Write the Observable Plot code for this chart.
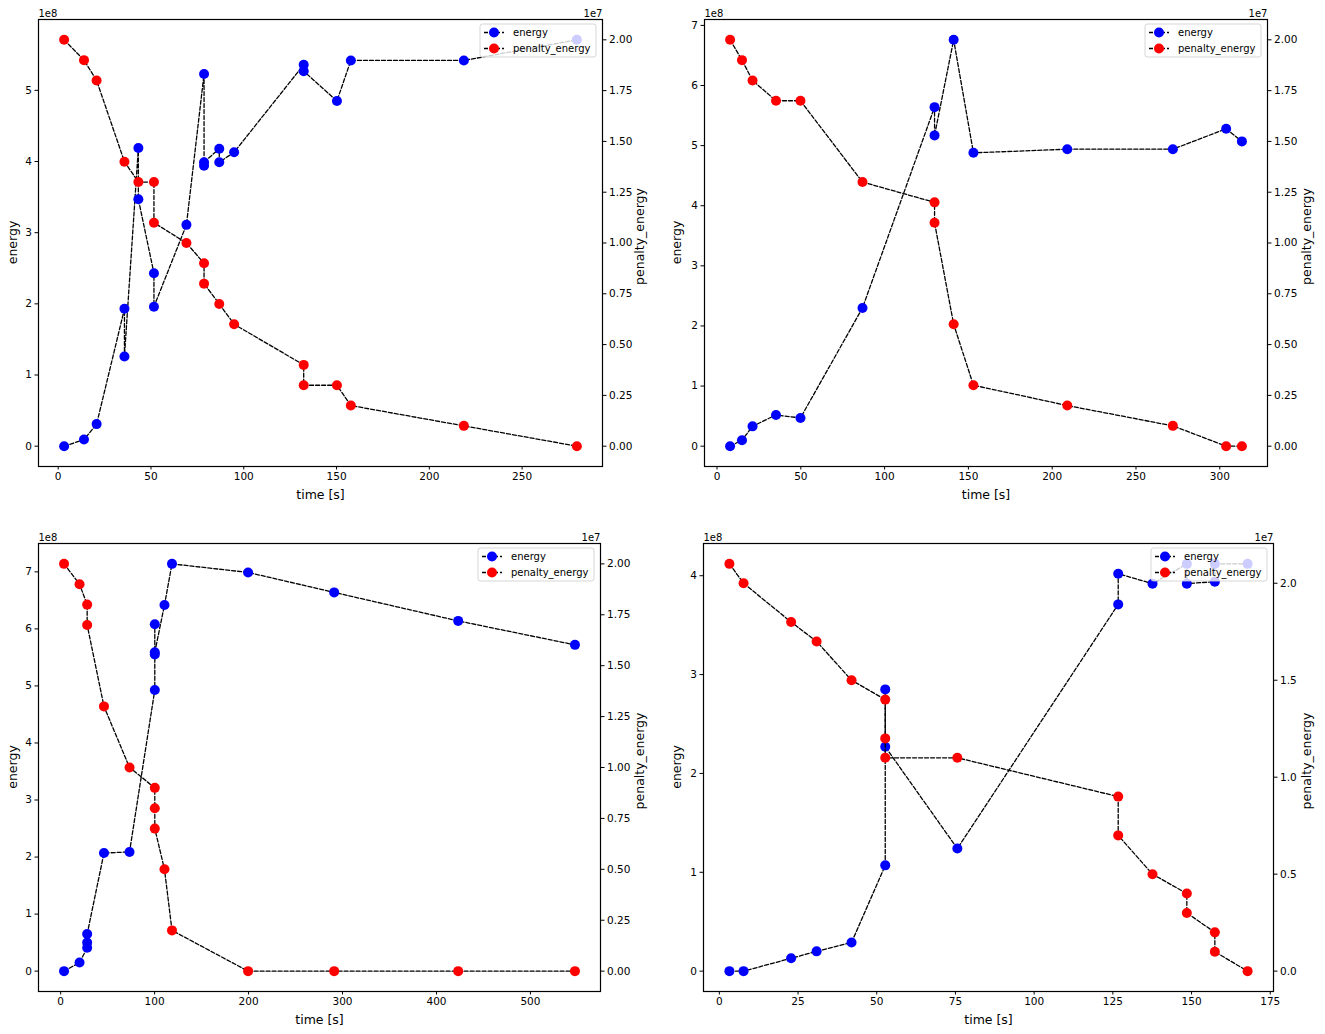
<!DOCTYPE html>
<html><head><meta charset="utf-8">
<script src="https://cdn.jsdelivr.net/npm/d3@7"></script>
<script src="https://cdn.jsdelivr.net/npm/@observablehq/plot@0.6"></script>
<style>
html,body{margin:0;padding:0;background:#fff;}
#root{position:relative;width:1325px;height:1034px;overflow:hidden;font-family:"DejaVu Sans",sans-serif;background:#fff;}
.panel{position:absolute;}
.panel svg{position:absolute;left:0;top:0;background:transparent;overflow:visible;}
</style></head><body><div id="root"></div>
<script>
// ---- Data (energy in units of 1e8, penalty_energy in units of 1e7, time in s) ----
const p1TimeE   = [3.2,13.9,20.7,35.7,35.7,43.2,43.2,51.6,51.6,69.1,78.6,78.6,78.6,86.8,86.8,94.8,132.3,132.3,150.2,157.7,218.6,279.5];
const p1Energy  = [0,0.093,0.31,1.93,1.26,4.19,3.47,2.43,1.96,3.11,5.23,3.94,3.99,4.18,3.99,4.13,5.36,5.27,4.85,5.42,5.42,5.71];
const p1TimeP   = [3.2,13.9,20.7,35.7,43.2,51.6,51.6,69.1,78.6,78.6,86.8,94.8,132.3,132.3,150.2,157.7,218.6,279.5];
const p1Penalty = [2.0,1.9,1.8,1.4,1.3,1.3,1.1,1.0,0.9,0.8,0.7,0.6,0.4,0.3,0.3,0.2,0.1,0.0];

const p2TimeE   = [7.8,14.9,21.2,35.2,49.8,86.8,129.8,129.8,141.2,153.0,209.0,272.0,303.8,313.2];
const p2Energy  = [0,0.10,0.33,0.52,0.47,2.30,5.64,5.17,6.76,4.88,4.94,4.94,5.28,5.07];
const p2TimeP   = [7.8,14.9,21.2,35.2,49.8,86.8,129.8,129.8,141.2,153.0,209.0,272.0,303.8,313.2];
const p2Penalty = [2.0,1.9,1.8,1.7,1.7,1.3,1.2,1.1,0.6,0.3,0.2,0.1,0.0,0.0];

const p3TimeE   = [3.6,20.1,28.2,28.2,28.2,46.1,73.3,100.2,100.2,100.2,100.2,110.5,118.5,199.5,291.1,423.1,547.4];
const p3Energy  = [0,0.15,0.41,0.50,0.65,2.07,2.09,4.93,5.55,6.08,5.59,6.42,7.14,6.99,6.64,6.14,5.72];
const p3TimeP   = [3.6,20.1,28.2,28.2,46.1,73.3,100.2,100.2,100.2,110.5,118.5,199.5,291.1,423.1,547.4];
const p3Penalty = [2.0,1.9,1.8,1.7,1.3,1.0,0.9,0.8,0.7,0.5,0.2,0,0,0,0];

const p4TimeE   = [3.2,7.7,22.8,30.9,42.0,52.7,52.7,52.7,75.6,126.7,126.7,137.6,148.5,148.5,157.4,157.4,167.8];
const p4Energy  = [0,0,0.13,0.20,0.29,1.07,2.85,2.27,1.24,3.71,4.02,3.92,4.12,3.92,3.94,4.12,4.12];
const p4TimeP   = [3.2,7.7,22.8,30.9,42.0,52.7,52.7,52.7,75.6,126.7,126.7,137.6,148.5,148.5,157.4,157.4,167.8];
const p4Penalty = [2.1,2.0,1.8,1.7,1.5,1.4,1.2,1.1,1.1,0.9,0.7,0.5,0.4,0.3,0.2,0.1,0.0];

// Tick values
const p1XTicks = [0,50,100,150,200,250];
const p2XTicks = [0,50,100,150,200,250,300];
const p3XTicks = [0,100,200,300,400,500];
const p4XTicks = [0,25,50,75,100,125,150,175];
const p1ETicks = [0,1,2,3,4,5];
const p2ETicks = [0,1,2,3,4,5,6,7];
const p3ETicks = [0,1,2,3,4,5,6,7];
const p4ETicks = [0,1,2,3,4];
const penTicksA = [0,0.25,0.5,0.75,1.0,1.25,1.5,1.75,2.0];
const penTicksB = [0,0.5,1.0,1.5,2.0];

const xLabel = "time [s]";
const yLabelLeft = "energy";
const yLabelRight = "penalty_energy";
const legendLabels = ["energy","penalty_energy"];
const colorEnergy = "#0000ff";
const colorPenalty = "#ff0000";

const panels = [
  {left:0,   top:0,   width:662, height:517, frame:{l:38, r:602, t:19, b:466},
   tE:p1TimeE, E:p1Energy, tP:p1TimeP, P:p1Penalty, xTicks:p1XTicks, eTicks:p1ETicks, pTicks:penTicksA, pFmt:".2f", lDx:-25, rDx:38},
  {left:662, top:0,   width:663, height:517, frame:{l:704, r:1267, t:19, b:466},
   tE:p2TimeE, E:p2Energy, tP:p2TimeP, P:p2Penalty, xTicks:p2XTicks, eTicks:p2ETicks, pTicks:penTicksA, pFmt:".2f", lDx:-27, rDx:40},
  {left:0,   top:517, width:662, height:517, frame:{l:38, r:600, t:543, b:991},
   tE:p3TimeE, E:p3Energy, tP:p3TimeP, P:p3Penalty, xTicks:p3XTicks, eTicks:p3ETicks, pTicks:penTicksA, pFmt:".2f", lDx:-25, rDx:40},
  {left:662, top:517, width:663, height:517, frame:{l:703, r:1273, t:543, b:991},
   tE:p4TimeE, E:p4Energy, tP:p4TimeP, P:p4Penalty, xTicks:p4XTicks, eTicks:p4ETicks, pTicks:penTicksB, pFmt:".1f", lDx:-26, rDx:34}
];

function pad(ext){ const r = ext[1]-ext[0]; return [ext[0]-0.05*r, ext[1]+0.05*r]; }

const root = document.getElementById("root");
const FONT = "DejaVu Sans, sans-serif";
const dash = "4,2";
const lineW = 1.3;

panels.forEach(p => {
  const div = document.createElement("div");
  div.className = "panel";
  div.style.left = p.left + "px"; div.style.top = p.top + "px";
  div.style.width = p.width + "px"; div.style.height = p.height + "px";
  root.appendChild(div);

  const mL = p.frame.l - p.left, mR = p.left + p.width - p.frame.r;
  const mT = p.frame.t - p.top, mB = p.top + p.height - p.frame.b;
  const xDom = pad(d3.extent([...p.tE, ...p.tP]));
  const eDom = pad(d3.extent(p.E));
  const pDom = pad(d3.extent(p.P));
  const common = {width:p.width, height:p.height, marginLeft:mL, marginRight:mR, marginTop:mT, marginBottom:mB,
    style:{background:"transparent", fontFamily:FONT, fontSize:"10.5px", color:"black", overflow:"visible"}};
  const eData = p.tE.map((t,i)=>({t, v:p.E[i]}));
  const pData = p.tP.map((t,i)=>({t, v:p.P[i]}));

  const A = Plot.plot({...common,
    x:{domain:xDom}, y:{domain:eDom},
    marks:[
      Plot.axisX({ticks:p.xTicks, tickSize:3.5, tickPadding:3, tickFormat:d3.format("d"), label:null}),
      Plot.axisY({anchor:"left", ticks:p.eTicks, tickSize:3.5, tickPadding:3, tickFormat:d3.format("d"), label:null}),
      Plot.line(eData,{x:"t", y:"v", stroke:"black", strokeWidth:lineW, strokeDasharray:dash}),
      Plot.dot(eData,{x:"t", y:"v", r:5, fill:colorEnergy}),
      Plot.text([xLabel],{text:d=>d, frameAnchor:"bottom", textAnchor:"middle", dy:28, fontSize:12.5, lineAnchor:"middle"}),
      Plot.text(["1e8"],{text:d=>d, frameAnchor:"top-left", textAnchor:"start", lineAnchor:"bottom", dy:-3, fontSize:10})
    ]});
  const B = Plot.plot({...common,
    x:{domain:xDom, axis:null}, y:{domain:pDom, axis:null},
    marks:[
      Plot.axisY({anchor:"right", ticks:p.pTicks, tickSize:3.5, tickPadding:3, tickFormat:d3.format(p.pFmt), label:null}),
      Plot.line(pData,{x:"t", y:"v", stroke:"black", strokeWidth:lineW, strokeDasharray:dash}),
      Plot.dot(pData,{x:"t", y:"v", r:5, fill:colorPenalty}),
      Plot.text(["1e7"],{text:d=>d, frameAnchor:"top-right", textAnchor:"end", lineAnchor:"bottom", dy:-3, fontSize:10}),
      Plot.frame({stroke:"black", strokeWidth:1.2})
    ]});
  div.appendChild(A);
  div.appendChild(B);

  // Rotated axis titles (both read bottom-to-top, centered on the frame)
  const cy = (mT + p.height - mB) / 2;
  const gl = d3.select(B).append("g").attr("font-family", FONT).attr("font-size", 12.5).attr("fill", "black").attr("text-anchor", "middle");
  gl.append("text").attr("transform", `translate(${mL + p.lDx},${cy}) rotate(-90)`).attr("dy", "0.35em").text(yLabelLeft);
  gl.append("text").attr("transform", `translate(${p.width - mR + p.rDx},${cy - 6}) rotate(-90)`).attr("dy", "0.35em").text(yLabelRight);

  // Legend (upper right, semi-transparent like matplotlib)
  const lw = 116, lh = 33;
  const bx = p.frame.r - p.left - 6 - lw, by = mT + 5;
  const g = d3.select(B).append("g").attr("font-family", FONT).attr("font-size", 10).attr("text-anchor", "start");
  g.append("rect").attr("x",bx).attr("y",by).attr("width",lw).attr("height",lh).attr("rx",2.5)
    .attr("fill","white").attr("fill-opacity",0.8).attr("stroke","#cccccc").attr("stroke-opacity",0.8);
  [colorEnergy, colorPenalty].forEach((c,i) => {
    const yy = by + 8.5 + i*16;
    g.append("line").attr("x1",bx+4).attr("x2",bx+24).attr("y1",yy).attr("y2",yy)
      .attr("stroke","black").attr("stroke-width",lineW).attr("stroke-dasharray",dash);
    g.append("circle").attr("cx",bx+14).attr("cy",yy).attr("r",5).attr("fill",c);
    g.append("text").attr("x",bx+33).attr("y",yy).attr("dy","0.35em").attr("fill","black").attr("text-anchor","start").text(legendLabels[i]);
  });
});
</script></body></html>
